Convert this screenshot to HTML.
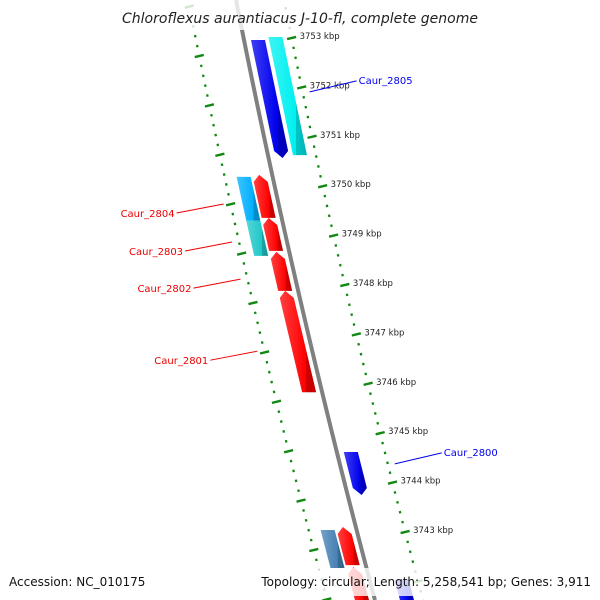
<!DOCTYPE html>
<html><head><meta charset="utf-8"><style>
html,body{margin:0;padding:0;background:#fff;overflow:hidden;}
svg{display:block;font-family:"DejaVu Sans","Liberation Sans",sans-serif;}
</style></head><body>
<svg id="chart" width="600" height="600" viewBox="0 0 600 600" xmlns="http://www.w3.org/2000/svg">
<defs>
<linearGradient id="gshade" x1="0" y1="0" x2="1" y2="0">
<stop offset="0" stop-color="#fff" stop-opacity="0.25"/>
<stop offset="0.7" stop-color="#fff" stop-opacity="0"/>
<stop offset="0.72" stop-color="#000" stop-opacity="0.18"/>
<stop offset="1" stop-color="#000" stop-opacity="0.25"/>
</linearGradient>
</defs>
<g id="layer"></g>
</svg>
<script>
const geneNames = ["Caur_2805a","Caur_2805","Caur_2804","Caur_2804b","Caur_2803b","Caur_2803","Caur_2802","Caur_2801","Caur_2800","Caur_2799b","Caur_2799","Caur_2798","Caur_2797"];
const geneStart = [3752.96,3753.02,3750.23,3750.19,3749.30,3749.36,3748.67,3747.88,3744.62,3743.04,3743.10,3742.29,3742.03];
const geneEnd   = [3750.57,3750.63,3749.36,3749.30,3748.59,3748.69,3747.88,3745.83,3743.75,3742.27,3742.33,3741.40,3741.40];
const geneStrand= [1,1,-1,-1,-1,-1,-1,-1,1,-1,-1,-1,1];
const geneTrack = [0,1,0,1,1,0,0,0,0,1,0,0,1];
const geneArrow = [1,0,1,0,0,1,1,1,1,0,1,1,0];
const geneColor = ["#0000ee","#00f0f0","#ff0000","#00b0ff","#20c8c8","#ff0000","#ff0000","#ff0000","#0000ee","#4682b4","#ff0000","#ff0000","#0000ee"];
const tickLabels = [3753,3752,3751,3750,3749,3748,3747,3746,3745,3744,3743];
const labelNames = ["Caur_2805","Caur_2804","Caur_2803","Caur_2802","Caur_2801","Caur_2800"];
const labelKbp   = [3751.91,3749.64,3748.87,3748.12,3746.66,3744.38];
const labelSide  = [1,-1,-1,-1,-1,1];

const NS="http://www.w3.org/2000/svg";
const layer=document.getElementById('layer');
function yOf(k){return 38+(3753-k)*49.4;}
function X(y){const t=y-30;return 242+0.2002*t+5.8e-5*t*t;}
function mk(tag,attrs,parent){const e=document.createElementNS(NS,tag);for(const k in attrs)e.setAttribute(k,attrs[k]);(parent||layer).appendChild(e);return e;}

function tickLine(off,startK,endK,shift){
  for(let i=0;;i++){
    const k=startK-i*0.2; if(k<endK)break;
    const y=yOf(k)+shift; const x=X(y)+off;
    const major=Math.abs(k-Math.round(k))<0.01;
    const len=major?9:2.2;
    const t=mk('line',{x1:x-len/2,y1:y+len*0.12,x2:x+len/2,y2:y-len*0.12,stroke:'#118811','stroke-width':2.4});
    
    
  }
}
tickLine(48,3754.6,3741.0,0);
tickLine(-48,3754.6,3741.0,18);
tickLabels.forEach(k=>{const y=yOf(k);const t=mk('text',{x:X(y)+56,y:y+1,'font-size':8.5,fill:'#222'});t.textContent=k+' kbp';

});

let d='';for(let y=0;y<=600;y+=10)d+=(y?'L':'M')+X(y)+' '+y;
const bb=mk('path',{d:d,stroke:'#808080','stroke-width':4,fill:'none'});



geneNames.forEach((n,i)=>{
  const s=geneStrand[i];
  const o1=s>0?(geneTrack[i]?25:7):(geneTrack[i]?-36:-20);
  const o2=o1+14;
  const yA=yOf(geneStart[i]),yB=Math.min(yOf(geneEnd[i]),600);
  const mid=(o1+o2)/2, ah=geneArrow[i]?7:0;
  let pts;
  if(s>0){pts=[[X(yA)+o1,yA],[X(yA)+o2,yA],[X(yB-ah)+o2,yB-ah],[X(yB)+mid,yB],[X(yB-ah)+o1,yB-ah]];}
  else{pts=[[X(yA)+mid,yA],[X(yA+ah)+o2,yA+ah],[X(yB)+o2,yB],[X(yB)+o1,yB],[X(yA+ah)+o1,yA+ah]];}
  const p=pts.map(q=>q.join(',')).join(' ');
  const g=mk('g',{});
  
  
  mk('polygon',{points:p,fill:geneColor[i]},g);
  mk('polygon',{points:p,fill:'url(#gshade)'},g);
});

labelNames.forEach((n,i)=>{
  const y=yOf(labelKbp[i]);const col=labelSide[i]>0?'#0000ee':'#ee0000';
  let x1,x2,ty;
  if(labelSide[i]>0){x1=X(y)+55;x2=x1+47;ty=y-11;
    const l=mk('line',{x1:x1,y1:y,x2:x2,y2:ty,stroke:col,'stroke-width':1});
    
    
    const t=mk('text',{x:x2+2,y:ty+3,'font-size':10,fill:col});t.textContent=n;
    
    
  } else {x1=X(y)-55;x2=x1-47;ty=y+9;
    const l=mk('line',{x1:x1,y1:y,x2:x2,y2:ty,stroke:col,'stroke-width':1});
    
    
    const t=mk('text',{x:x2-2,y:ty+4,'font-size':10,fill:col,'text-anchor':'end'});t.textContent=n;
    
    
  }
});

const tb=mk('rect',{x:0,y:0,width:600,height:30,fill:'#fff','fill-opacity':0.8});


const tt=mk('text',{x:300,y:23,'font-size':14,'font-style':'italic','text-anchor':'middle',fill:'#222'});
tt.textContent='Chloroflexus aurantiacus J-10-fl, complete genome';


const fb=mk('rect',{x:0,y:568,width:600,height:28,fill:'#fff','fill-opacity':0.8});


const fa=mk('text',{x:9,y:586,'font-size':12,fill:'#111'});fa.textContent='Accession: NC_010175';


const ft=mk('text',{x:591,y:586,'font-size':12,fill:'#111','text-anchor':'end'});ft.textContent='Topology: circular; Length: 5,258,541 bp; Genes: 3,911';


</script>
</body></html>
